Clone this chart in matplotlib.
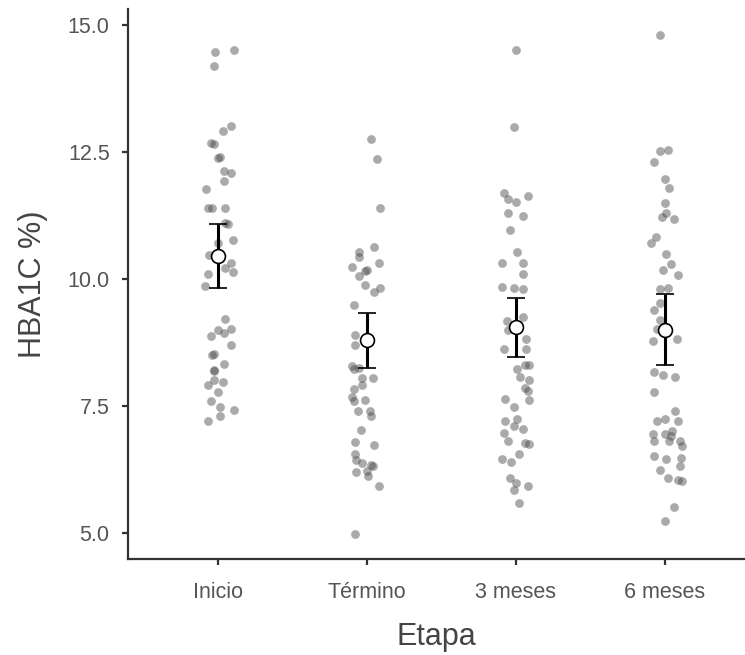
"""Jittered HBA1C values per stage with mean and error bars"""
import matplotlib
matplotlib.use("Agg")
import matplotlib.pyplot as plt

plt.rcParams['font.family'] = ['Liberation Sans', 'DejaVu Sans']

stages = ["Inicio", "Término", "3 meses", "6 meses"]

# values, with the horizontal jitter of each dot
inicio_vals = [14.50, 14.46, 14.20, 13.01, 12.91, 12.67, 12.65, 12.40, 12.38, 12.12,
               12.08, 11.93, 11.78, 11.39, 11.39, 11.39, 11.10, 11.09, 10.76, 10.71,
               10.47, 10.31, 10.14, 10.22, 10.10, 9.87, 9.22, 9.00, 8.94, 9.02,
               8.88, 8.70, 8.53, 8.50, 8.33, 8.20, 8.18, 8.02, 7.98, 7.91,
               7.77, 7.59, 7.48, 7.42, 7.30, 7.20]
inicio_jit = [0.11, -0.02, -0.03, 0.09, 0.03, -0.05, -0.03, 0.01, 0.00, 0.04,
              0.09, 0.04, -0.08, -0.07, -0.04, 0.05, 0.05, 0.07, 0.10, 0.00,
              -0.06, 0.09, 0.10, 0.05, -0.07, -0.09, 0.05, 0.00, 0.04, 0.09,
              -0.05, 0.09, -0.03, -0.04, 0.04, -0.03, -0.03, -0.03, 0.03, -0.07,
              0.00, -0.05, 0.01, 0.11, 0.01, -0.07]

termino_vals = [12.76, 12.37, 11.39, 10.63, 10.54, 10.44, 10.31, 10.24, 10.18, 10.16,
                10.05, 9.88, 9.82, 9.75, 9.49, 8.90, 8.70, 8.28, 8.22, 8.24,
                8.06, 8.06, 7.92, 7.84, 7.67, 7.59, 7.61, 7.40, 7.41, 7.30,
                7.03, 6.79, 6.73, 6.55, 6.44, 6.37, 6.33, 6.31, 6.20, 6.22,
                6.12, 5.93, 4.98]
termino_jit = [0.03, 0.07, 0.09, 0.05, -0.05, -0.05, 0.08, -0.10, 0.00, -0.01,
               -0.05, -0.01, 0.09, 0.05, -0.09, -0.08, -0.08, -0.10, -0.09, -0.05,
               0.04, -0.03, -0.03, -0.09, -0.10, -0.09, -0.01, -0.06, 0.02, 0.03,
               -0.04, -0.08, 0.05, -0.08, -0.07, -0.03, 0.03, 0.04, -0.07, 0.00,
               0.01, 0.08, -0.08]

tres_vals = [14.50, 12.99, 11.69, 11.58, 11.52, 11.63, 11.30, 11.24, 10.97, 10.54,
             10.32, 10.32, 10.10, 9.85, 9.82, 9.80, 9.26, 9.18, 8.99, 8.82,
             8.63, 8.63, 8.31, 8.22, 8.31, 8.08, 8.02, 7.86, 7.80, 7.64,
             7.61, 7.48, 7.20, 7.24, 7.10, 7.05, 6.97, 6.81, 6.78, 6.75,
             6.55, 6.45, 6.39, 6.09, 5.99, 5.85, 5.92, 5.59]
tres_jit = [0.00, -0.01, -0.08, -0.05, 0.00, 0.08, -0.05, 0.05, -0.04, 0.01,
            -0.09, 0.05, 0.05, -0.09, -0.01, 0.05, 0.05, -0.06, -0.05, 0.07,
            -0.08, 0.07, 0.06, 0.01, 0.09, 0.03, 0.09, 0.06, 0.08, -0.07,
            0.09, -0.01, -0.07, 0.01, -0.01, 0.05, -0.08, -0.05, 0.06, 0.09,
            0.02, -0.09, -0.03, -0.04, 0.00, -0.01, 0.08, 0.02]

seis_vals = [14.80, 12.51, 12.53, 12.30, 11.97, 11.80, 11.50, 11.22, 11.29, 11.18,
             10.83, 10.71, 10.50, 10.29, 10.18, 10.08, 9.80, 9.82, 9.52, 9.39,
             9.20, 9.02, 8.78, 8.82, 8.17, 8.12, 8.07, 7.78, 7.40, 7.20,
             7.25, 7.20, 6.94, 6.94, 7.01, 6.91, 6.81, 6.81, 6.81, 6.71,
             6.52, 6.45, 6.48, 6.32, 6.24, 6.09, 6.05, 6.03, 5.52, 5.24]
seis_jit = [-0.03, -0.03, 0.02, -0.07, 0.00, 0.03, 0.00, -0.02, 0.01, 0.06,
            -0.06, -0.09, 0.01, 0.04, -0.01, 0.09, -0.03, 0.02, -0.03, -0.07,
            -0.03, -0.05, -0.08, 0.08, -0.07, -0.01, 0.07, -0.07, 0.07, -0.05,
            0.00, 0.09, -0.08, 0.00, 0.05, 0.04, -0.07, 0.03, 0.10, 0.12,
            -0.07, 0.01, 0.11, 0.10, -0.03, 0.02, 0.09, 0.12, 0.06, 0.00]

means = [10.45, 8.80, 9.05, 9.00]
ci_low = [9.82, 8.24, 8.47, 8.31]
ci_high = [11.08, 9.34, 9.62, 9.70]

values = [inicio_vals, termino_vals, tres_vals, seis_vals]
jitter = [inicio_jit, termino_jit, tres_jit, seis_jit]

fig = plt.figure(figsize=(7.45, 6.55), dpi=100)
ax = fig.add_axes([0.172, 0.1466, 0.828, 0.8394])

for i in range(len(stages)):
    xs = [i + j for j in jitter[i]]
    ax.scatter(xs, values[i], s=40, color="#444444", alpha=0.45,
               linewidths=0, zorder=2)

yerr = [[m - lo for m, lo in zip(means, ci_low)],
        [hi - m for m, hi in zip(means, ci_high)]]
ax.errorbar(range(len(stages)), means, yerr=yerr, fmt="o", color="black",
            ecolor="black", elinewidth=2.2, capsize=6.5, capthick=2.2,
            markersize=10, markerfacecolor="white", markeredgecolor="black",
            markeredgewidth=1.2, zorder=3)

ax.set_xlim(-0.604, 3.54)
ax.set_ylim(4.49, 15.31)
ax.set_xticks(range(len(stages)))
ax.set_xticklabels(stages)
ax.set_yticks([5.0, 7.5, 10.0, 12.5, 15.0])
ax.set_yticklabels(["5.0", "7.5", "10.0", "12.5", "15.0"])

# only left and bottom frame lines
ax.spines["top"].set_visible(False)
ax.spines["right"].set_visible(False)
for side in ["left", "bottom"]:
    ax.spines[side].set_color("#333333")
    ax.spines[side].set_linewidth(1.6)

ax.tick_params(axis="both", length=4.3, width=1.6, color="#333333",
               labelsize=15.5, labelcolor="#555555", pad=9)
ax.tick_params(axis="x", pad=12)

ax.set_xlabel("Etapa", fontsize=22, color="#444444", labelpad=14)
ax.set_ylabel("HBA1C %)", fontsize=22, color="#444444", labelpad=14)

plt.savefig("out.png", dpi=100)
